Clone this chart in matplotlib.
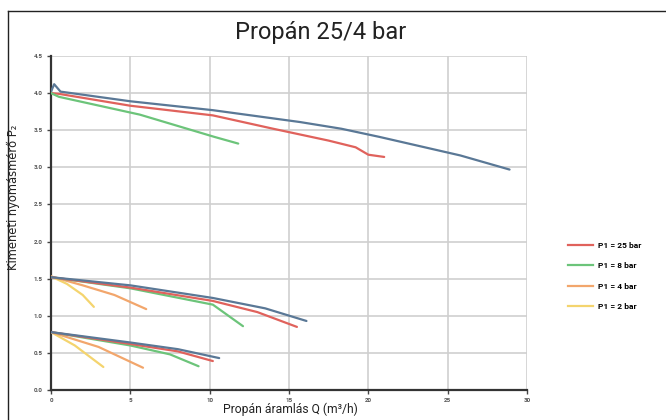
import matplotlib
matplotlib.use("Agg")
import matplotlib.pyplot as plt
from matplotlib.lines import Line2D

plt.rcParams['font.family'] = ['Roboto', 'DejaVu Sans']

# ---- data ----
x_ticks = [0, 5, 10, 15, 20, 25, 30]
y_ticks = [0.0, 0.5, 1.0, 1.5, 2.0, 2.5, 3.0, 3.5, 4.0, 4.5]

# upper group (P2 ~ 4 bar)
up_blue_q = [0, 0.2, 0.6, 5, 10.2, 15.7, 18.3, 20.7, 25.8, 28.9]
up_blue_p = [4.02, 4.12, 4.02, 3.89, 3.77, 3.61, 3.52, 3.41, 3.16, 2.97]
up_red_q = [0, 0.5, 5, 10.2, 14.0, 17.5, 19.2, 20.0, 21.0]
up_red_p = [4.0, 3.99, 3.83, 3.70, 3.52, 3.36, 3.27, 3.17, 3.14]
up_green_q = [0, 0.5, 5.6, 10.3, 11.8]
up_green_p = [4.0, 3.95, 3.71, 3.41, 3.32]

# middle group (P2 ~ 1.5 bar)
mid_blue_q = [0, 5, 10.2, 13.5, 16.1]
mid_blue_p = [1.52, 1.41, 1.24, 1.10, 0.93]
mid_red_q = [0, 5, 10.2, 13.0, 15.5]
mid_red_p = [1.52, 1.38, 1.20, 1.05, 0.85]
mid_green_q = [0, 5, 10.2, 12.1]
mid_green_p = [1.52, 1.37, 1.15, 0.86]
mid_orange_q = [0, 2, 4, 6.0]
mid_orange_p = [1.53, 1.41, 1.28, 1.09]
mid_yellow_q = [0, 1, 2, 2.7]
mid_yellow_p = [1.53, 1.43, 1.28, 1.12]

# lower group (P2 ~ 0.75 bar)
low_blue_q = [0, 5, 8, 10.6]
low_blue_p = [0.78, 0.64, 0.55, 0.43]
low_red_q = [0, 5, 8, 10.2]
low_red_p = [0.78, 0.62, 0.52, 0.39]
low_green_q = [0, 5, 7.5, 9.3]
low_green_p = [0.78, 0.60, 0.48, 0.32]
low_orange_q = [0, 3, 5.8]
low_orange_p = [0.78, 0.58, 0.30]
low_yellow_q = [0, 1.5, 3.3]
low_yellow_p = [0.78, 0.60, 0.31]

legend_labels = ["P1 = 25 bar", "P1 = 8 bar", "P1 = 4 bar", "P1 = 2 bar"]

BLUE = "#5a7896"
RED = "#e0625c"
GREEN = "#6cc47a"
ORANGE = "#f2a66c"
YELLOW = "#f4d46e"

fig = plt.figure(figsize=(6.66, 4.2), dpi=100)
ax = fig.add_axes([51/666, 1-390/420, (527-51)/666, (390-56)/420])

lw = 1.6
series = [
    (up_blue_q, up_blue_p, BLUE), (up_red_q, up_red_p, RED), (up_green_q, up_green_p, GREEN),
    (mid_yellow_q, mid_yellow_p, YELLOW), (mid_orange_q, mid_orange_p, ORANGE),
    (mid_green_q, mid_green_p, GREEN), (mid_red_q, mid_red_p, RED), (mid_blue_q, mid_blue_p, BLUE),
    (low_yellow_q, low_yellow_p, YELLOW), (low_orange_q, low_orange_p, ORANGE),
    (low_green_q, low_green_p, GREEN), (low_red_q, low_red_p, RED), (low_blue_q, low_blue_p, BLUE),
]
for q, p, c in series:
    ax.plot(q, p, color=c, lw=lw, solid_capstyle='round', zorder=3)

ax.set_xlim(0, 30)
ax.set_ylim(0, 4.5)
ax.set_xticks(x_ticks)
ax.set_yticks(y_ticks)
ax.set_xticklabels([str(v) for v in x_ticks], fontsize=4.5, color="#555555", fontweight='bold')
ax.set_yticklabels([f"{v:.1f}" for v in y_ticks], fontsize=4.5, color="#555555", fontweight='bold')
ax.tick_params(axis='both', length=3, width=1, color="#444444", pad=3)
ax.grid(True, color="#cfcfcf", lw=1.2, zorder=0)
ax.set_axisbelow(True)
for s in ['top', 'right']:
    ax.spines[s].set_visible(False)
for s in ['left', 'bottom']:
    ax.spines[s].set_color("#333333")
    ax.spines[s].set_linewidth(1.6)

fig.text(321/666, 1-33/420, "Propán 25/4 bar", ha='center', va='center', fontsize=17, color="#222222")
fig.text(290/666, 1-409/420, "Propán áramlás Q (m³/h)", ha='center', va='center', fontsize=8.7, color="#222222")
fig.text(13/666, 1-197/420, "Kimeneti nyomásmérő P₂", ha='center', va='center', rotation=90,
         fontsize=8.3, color="#222222", family=['DejaVu Sans'])

handles = [Line2D([], [], color=c, lw=1.6) for c in [RED, GREEN, ORANGE, YELLOW]]
leg = fig.legend(handles, legend_labels, loc='center left', bbox_to_anchor=(560/666, 1-276/420),
                 frameon=False, prop={'size': 6, 'weight': 'bold'}, labelspacing=1.6,
                 handlelength=3.0, handletextpad=0.6)

# figure frame lines (left and top)
fig.add_artist(Line2D([8/666, 8/666], [0, 1-10.5/420], color="#222222", lw=1.0, transform=fig.transFigure))
fig.add_artist(Line2D([8/666, 1], [1-10.5/420, 1-10.5/420], color="#222222", lw=1.0, transform=fig.transFigure))

fig.savefig("out.png", dpi=100)
